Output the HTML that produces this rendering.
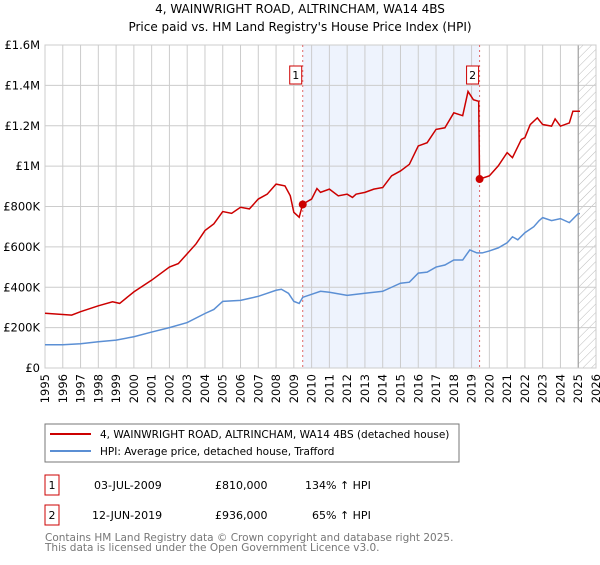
<!DOCTYPE html>
<html><head><meta charset="utf-8"><style>
body{margin:0;background:#fff;font-family:"Liberation Sans","DejaVu Sans",sans-serif;}
svg text{font-family:"DejaVu Sans","Liberation Sans",sans-serif;}
</style></head><body>
<svg id="c" width="600" height="560" xmlns="http://www.w3.org/2000/svg">
<defs><pattern id="hatch" width="6" height="6" patternUnits="userSpaceOnUse" patternTransform="rotate(45)"><line x1="0" y1="0" x2="0" y2="6" stroke="#bbb" stroke-width="1"/></pattern></defs>
<text x="300" y="13" text-anchor="middle" font-size="12" fill="#000">4, WAINWRIGHT ROAD, ALTRINCHAM, WA14 4BS</text>
<text x="300" y="31" text-anchor="middle" font-size="12" fill="#000">Price paid vs. HM Land Registry's House Price Index (HPI)</text>
<g id="plot"></g>
<rect x="45" y="424" width="414" height="38" fill="#fff" stroke="#777"/>
<line x1="50" y1="434" x2="91" y2="434" stroke="#cc0000" stroke-width="2"/>
<text x="100" y="438" font-size="10.5">4, WAINWRIGHT ROAD, ALTRINCHAM, WA14 4BS (detached house)</text>
<line x1="50" y1="451" x2="91" y2="451" stroke="#5b8fd4" stroke-width="2"/>
<text x="100" y="455" font-size="10.5">HPI: Average price, detached house, Trafford</text>
<rect x="45" y="475" width="14" height="20" fill="#fff" stroke="#cc0000"/>
<text x="52" y="489" text-anchor="middle" font-size="11">1</text>
<text x="94" y="489" font-size="11">03-JUL-2009</text>
<text x="215" y="489" font-size="11">£810,000</text>
<text x="305" y="489" font-size="11">134% ↑ HPI</text>
<rect x="45" y="505" width="14" height="20" fill="#fff" stroke="#cc0000"/>
<text x="52" y="519" text-anchor="middle" font-size="11">2</text>
<text x="92" y="519" font-size="11">12-JUN-2019</text>
<text x="215" y="519" font-size="11">£936,000</text>
<text x="312" y="519" font-size="11">65% ↑ HPI</text>
<text x="45" y="541" font-size="10.5" fill="#777">Contains HM Land Registry data © Crown copyright and database right 2025.</text>
<text x="45" y="551" font-size="10.5" fill="#777">This data is licensed under the Open Government Licence v3.0.</text>
</svg>
<script>
const yearTicks=[1995,1996,1997,1998,1999,2000,2001,2002,2003,2004,2005,2006,2007,2008,2009,2010,2011,2012,2013,2014,2015,2016,2017,2018,2019,2020,2021,2022,2023,2024,2025,2026];
const valueTicks=[0,200,400,600,800,1000,1200,1400,1600];
const valueTickLabels=["£0","£200K","£400K","£600K","£800K","£1M","£1.2M","£1.4M","£1.6M"];
const hpiYears=[1995,1996,1997,1998,1999,2000,2001,2002,2003,2004,2004.5,2005,2006,2006.5,2007,2007.5,2008,2008.3,2008.7,2009,2009.3,2009.5,2010,2010.5,2011,2012,2013,2014,2014.5,2015,2015.5,2016,2016.5,2017,2017.5,2018,2018.5,2018.9,2019.3,2019.6,2020,2020.5,2021,2021.3,2021.6,2022,2022.5,2022.8,2023,2023.5,2024,2024.5,2025,2025.1];
const hpiValues=[115,115,120,130,138,155,178,200,225,270,290,330,335,345,355,370,385,390,370,330,320,350,365,380,375,360,370,380,400,420,425,470,475,500,510,535,535,585,570,570,580,595,620,650,635,670,700,730,745,730,740,720,765,765];
const propYears=[1995,1996.5,1997,1998,1998.8,1999.2,2000,2001,2002,2002.5,2003,2003.5,2004,2004.5,2005,2005.5,2006,2006.5,2007,2007.5,2008,2008.5,2008.8,2009,2009.3,2009.5,2010,2010.3,2010.5,2011,2011.5,2012,2012.3,2012.5,2013,2013.5,2014,2014.5,2015,2015.5,2016,2016.5,2017,2017.5,2018,2018.5,2018.8,2019.1,2019.4,2019.45,2020,2020.5,2021,2021.3,2021.8,2022,2022.3,2022.7,2023,2023.5,2023.7,2024,2024.5,2024.7,2025.1];
const propValues=[271,262,279,308,328,320,377,435,500,517,566,615,681,714,775,766,796,788,837,861,911,902,853,771,747,812,837,889,870,886,853,861,845,861,870,886,894,952,976,1009,1100,1116,1182,1190,1264,1250,1370,1329,1321,936,952,1001,1067,1042,1132,1141,1206,1239,1206,1198,1234,1198,1214,1272,1272];
const saleYears=[2009.5,2019.45];
const saleValues=[810,936];
const saleLabels=["1","2"];
const NS="http://www.w3.org/2000/svg";
const X0=45,X1=596,Y0=368,Y1=45;
const x=y=>X0+(y-1995)/(2026-1995)*(X1-X0);
const yv=v=>Y0-v/1600*(Y0-Y1);
const g=document.getElementById('plot');
function mk(t,a){const e=document.createElementNS(NS,t);for(const k in a)e.setAttribute(k,a[k]);g.appendChild(e);return e;}
let e=mk('rect',{x:x(saleYears[0]),y:Y1,width:x(saleYears[1])-x(saleYears[0]),height:Y0-Y1,fill:'#eef3fd'});


e=mk('rect',{x:x(2025),y:Y1,width:X1-x(2025),height:Y0-Y1,fill:'url(#hatch)'});


yearTicks.forEach(yr=>{
 e=mk('line',{x1:x(yr),y1:Y1,x2:x(yr),y2:Y0,stroke:'#ccc','stroke-width':1});
 
 
 e=mk('text',{x:0,y:0,'font-size':11.5,'text-anchor':'end',transform:`translate(${x(yr)+4},${Y0+6}) rotate(-90)`});
 e.textContent=yr;
 
 
});
valueTicks.forEach((v,i)=>{
 e=mk('line',{x1:X0,y1:yv(v),x2:X1,y2:yv(v),stroke:'#ccc','stroke-width':1});
 
 
 e=mk('text',{x:X0-5,y:yv(v)+4,'font-size':11.5,'text-anchor':'end'});
 e.textContent=valueTickLabels[i];
 
 
});
e=mk('line',{x1:x(2025),y1:Y1,x2:x(2025),y2:Y0,stroke:'#999','stroke-width':1});


e=mk('rect',{x:X0,y:Y1,width:X1-X0,height:Y0-Y1,fill:'none',stroke:'#ccc'});


saleYears.forEach((s,i)=>{
 e=mk('line',{x1:x(s),y1:Y1,x2:x(s),y2:Y0,stroke:'#e06666','stroke-width':1,'stroke-dasharray':'2,3'});
 
 
});
e=mk('polyline',{points:hpiYears.map((t,i)=>x(t)+','+yv(hpiValues[i])).join(' '),fill:'none',stroke:'#5b8fd4','stroke-width':1.5});


e=mk('polyline',{points:propYears.map((t,i)=>x(t)+','+yv(propValues[i])).join(' '),fill:'none',stroke:'#cc0000','stroke-width':1.5});


saleYears.forEach((s,i)=>{
 e=mk('circle',{cx:x(s),cy:yv(saleValues[i]),r:4,fill:'#cc0000'});
 
 
 e=mk('rect',{x:x(s)-13,y:66,width:12,height:18,fill:'#fff',stroke:'#cc0000'});
 
 
 e=mk('text',{x:x(s)-7,y:79,'font-size':11,'text-anchor':'middle'});
 e.textContent=saleLabels[i];
 
 
});
</script>
</body></html>
